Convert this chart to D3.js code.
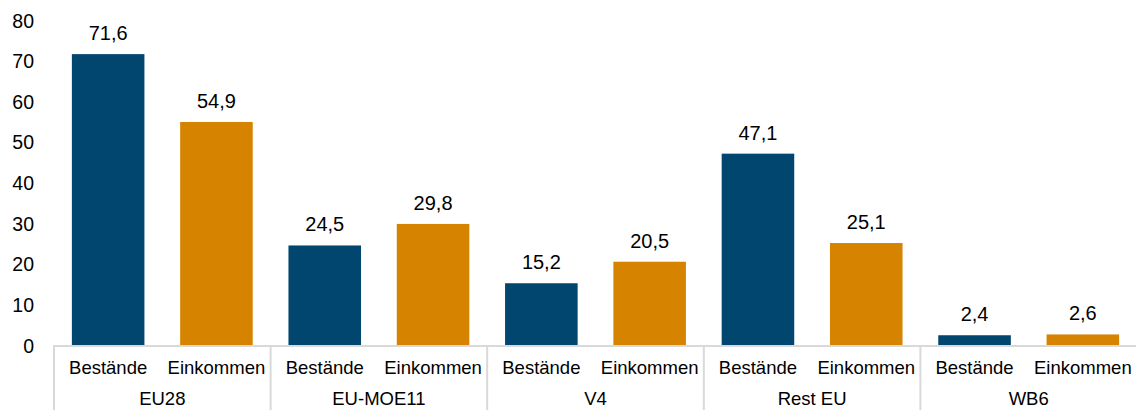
<!DOCTYPE html>
<meta charset="utf-8">
<style>
body { margin: 0; background: #fff; }
text { font-family: "Liberation Sans", Arial, sans-serif; fill: #000; }
</style>
<svg width="1136" height="410"></svg>
<script src="https://d3js.org/d3.v7.min.js"></script>
<script>
var groups = ["EU28", "EU-MOE11", "V4", "Rest EU", "WB6"];
var kinds = ["Bestände", "Einkommen"];
var bestaende = [71.6, 24.5, 15.2, 47.1, 2.4];
var einkommen = [54.9, 29.8, 20.5, 25.1, 2.6];
var yTicks = [0, 10, 20, 30, 40, 50, 60, 70, 80];

var colors = {"Bestände": "#00466F", "Einkommen": "#D68400"};

var svg = d3.select("svg"),
    margin = {top: 20, right: 0, bottom: 65, left: 54},
    width = 1137 - margin.left,
    height = 410 - margin.top - margin.bottom;

var g = svg.append("g").attr("transform", "translate(" + margin.left + "," + margin.top + ")");

var data = [];
groups.forEach(function(grp, i) {
  data.push({group: grp, kind: kinds[0], value: bestaende[i]});
  data.push({group: grp, kind: kinds[1], value: einkommen[i]});
});

var x0 = d3.scaleBand().domain(groups).range([0, width]);
var x1 = d3.scaleBand().domain(kinds).range([0, x0.bandwidth()]).paddingInner(0.33).paddingOuter(0.165);
var y = d3.scaleLinear().domain([0, 80]).range([height, 0]);

// y axis labels only
var yAxis = g.append("g").call(d3.axisLeft(y).tickValues(yTicks).tickSize(0).tickPadding(20));
yAxis.select(".domain").remove();
yAxis.selectAll("text").style("font-size", "19.5px").attr("dy", "0.36em");

var fmt = function(v) { return d3.format(".1f")(v).replace(".", ","); };

g.selectAll(".bar")
  .data(data)
  .enter().append("rect")
  .attr("class", "bar")
  .attr("x", function(d) { return x0(d.group) + x1(d.kind); })
  .attr("y", function(d) { return y(d.value); })
  .attr("width", x1.bandwidth())
  .attr("height", function(d) { return height - y(d.value); })
  .attr("fill", function(d) { return colors[d.kind]; });

g.selectAll(".val")
  .data(data)
  .enter().append("text")
  .attr("class", "val")
  .attr("x", function(d) { return x0(d.group) + x1(d.kind) + x1.bandwidth() / 2; })
  .attr("y", function(d) { return y(d.value) - 14; })
  .attr("text-anchor", "middle")
  .style("font-size", "20px")
  .text(function(d) { return fmt(d.value); });

// x axis line and group separators
g.append("line")
  .attr("x1", 0).attr("x2", width)
  .attr("y1", height + 1).attr("y2", height + 1)
  .attr("stroke", "#D9D9D9").attr("stroke-width", 2);

var seps = groups.map(function(d) { return x0(d); }).concat([width]);
g.selectAll(".sep")
  .data(seps)
  .enter().append("line")
  .attr("class", "sep")
  .attr("x1", function(d) { return d; }).attr("x2", function(d) { return d; })
  .attr("y1", height).attr("y2", height + margin.bottom)
  .attr("stroke", "#D9D9D9").attr("stroke-width", 2);

g.selectAll(".cat")
  .data(data)
  .enter().append("text")
  .attr("class", "cat")
  .attr("x", function(d) { return x0(d.group) + x1(d.kind) + x1.bandwidth() / 2; })
  .attr("y", height + 29)
  .attr("text-anchor", "middle")
  .style("font-size", "18.5px")
  .text(function(d) { return d.kind; });

g.selectAll(".grp")
  .data(groups)
  .enter().append("text")
  .attr("class", "grp")
  .attr("x", function(d) { return x0(d) + x0.bandwidth() / 2; })
  .attr("y", height + 60)
  .attr("text-anchor", "middle")
  .style("font-size", "18.5px")
  .text(function(d) { return d; });
</script>
